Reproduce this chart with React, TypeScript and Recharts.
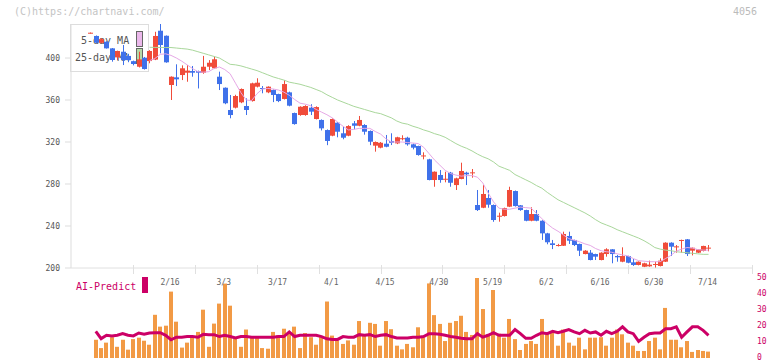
import React from 'react';
import { ComposedChart, Bar, Line, XAxis, YAxis } from 'recharts';

const MONO = '"DejaVu Sans Mono", monospace';
const RED = '#f04c3a';
const BLUE = '#3f71ea';

const open = [
  424.1, 421, 414.5, 415.5, 409.2, 400.6, 406, 402, 397, 391.7,
  400.3, 397.1, 398.5, 426, 421.2, 374.3, 381.6, 383.8, 386, 387.6,
  387.6, 386, 391.7, 390.2, 382.2, 371.7, 350.5, 352.7, 357.8, 354.3,
  359, 372.7, 371.4, 367.3, 369.5, 365.7, 361, 367.3, 347.6, 345.7,
  345.7, 352.7, 341.9, 341, 331.4, 326, 338.4, 328.3, 326, 337.8,
  335.5, 336.2, 330.5, 316.5, 314.6, 318.4, 321, 318.7, 323.4, 324.1,
  317.8, 316.2, 306.8, 303.5, 283.8, 288.6, 284.5, 290.8, 279, 284.8,
  290.8, 290.8, 260, 257.4, 266.7, 260, 249.5, 249.5, 258.4, 273.3,
  259.7, 255.2, 245, 251.4, 245, 233, 223.5, 221.6, 221.2, 230.5,
  226.7, 222.9, 213.3, 214.6, 213.3, 207.6, 213.3, 217.8, 211.4, 206,
  211.4, 205.4, 202.9, 201.2, 201.6, 203.5, 201.9, 206, 224.1, 220.3,
  226, 227.3, 216.5, 214.6, 216.2, 219,
];
const high = [
  424.3, 421.5, 419, 416, 409.5, 407, 412.4, 404, 397.5, 406,
  401, 407.5, 425, 432.4, 421.5, 382.5, 394, 393, 393.3, 392.4,
  388, 402, 398, 401, 387, 372, 364.8, 365, 371, 361.6,
  376.5, 380.7, 373.3, 373, 370, 366, 379, 368, 348, 354,
  355, 356, 354, 341.5, 332, 342.5, 339, 334.6, 336, 340,
  344.8, 337, 331, 320.5, 320, 326.7, 328.3, 325, 326.4, 325,
  318.5, 316.5, 310.2, 304, 292, 293.3, 291.7, 291.5, 286, 300.3,
  291.7, 294.3, 274.3, 279, 274.3, 260.5, 252.7, 257.5, 277.4, 273.8,
  260, 255.5, 257.8, 255.2, 245.5, 233.5, 226.7, 223, 234.6, 234.6,
  227, 223.2, 217, 217.1, 213.6, 215, 218.8, 218, 212.5, 219.7,
  211.7, 208.6, 206.3, 205, 207, 206, 209.2, 224.5, 224.5, 221.9,
  227, 227.6, 219.5, 218, 221.2, 221.9,
];
const low = [
  424.0, 414, 414, 409, 396.5, 398, 393.3, 396, 393, 391,
  389, 395, 398, 404.5, 395.5, 360, 373.3, 379, 377.4, 382.2,
  371, 385, 388.6, 389.5, 369.5, 356, 342.6, 352, 357, 345.7,
  358.5, 372, 366.4, 366.5, 358, 358, 360.5, 354, 336.5, 345,
  345, 345.7, 341.5, 331, 317, 325.5, 324.5, 322.6, 325.5, 332,
  335, 327, 317, 310.8, 314, 315, 317.1, 318, 321.6, 316.5,
  313, 307, 303.5, 283.5, 277.4, 281.2, 281.6, 277.4, 274.3, 284.5,
  279, 286, 254.3, 257, 257.4, 244, 244.1, 249, 258, 258.5,
  254.5, 244.5, 244.5, 244.5, 226.7, 222.6, 218, 220.5, 221, 222.9,
  220.9, 211.4, 213, 207.3, 207.6, 207.3, 210.8, 204.5, 206, 205.5,
  204.5, 202, 202.5, 200.8, 201.2, 199, 201.5, 205.7, 211.4, 214.6,
  214.6, 211.4, 212, 214.3, 215.8, 215.9,
];
const close = [
  424.1, 414.6, 418, 409.2, 398.1, 406.7, 398, 398, 394.3, 398.7,
  389.5, 406.7, 421, 412.4, 395.9, 382.2, 379.7, 390.2, 388, 386,
  386, 391.7, 395.5, 398.8, 375.2, 356.9, 345.7, 363.8, 370.5, 350.5,
  375.9, 376.5, 370.5, 372.7, 364.8, 359, 375.2, 354.6, 337.1, 353.6,
  354.3, 348.9, 353.3, 333, 321, 341.9, 329.8, 324.1, 335.2, 335.5,
  341, 329.8, 320.3, 320, 319.3, 315.5, 319.3, 324.5, 323.6, 317.8,
  314.6, 307.6, 307.2, 283.8, 291.7, 283.8, 285, 281.2, 285.4, 292.4,
  289.2, 291.1, 255.2, 270.5, 260.3, 245.7, 249.8, 257.1, 274.3, 259,
  255.2, 245, 251.4, 245, 233, 224.5, 221.9, 221.9, 232.4, 226,
  221.9, 216.5, 216.5, 207.6, 210.8, 214.6, 217.8, 213.3, 210.2, 211.4,
  205, 202.9, 206, 204.5, 203.2, 203.8, 207, 224.1, 220.3, 220.6,
  226.7, 213.3, 219.3, 217.8, 221, 219.4,
];

const N = null;
const ma5 = [
  N, N, N, N, N, N, N, N, N, N, N,
  397.5, 399.5, 403.5, 404, 402.5, 400, 397, 393.5, 390, 387,
  386.5, 387, 390, 391.5, 389, 385, 376, 367, 360, 359.5,
  366, 370.5, 371, 370.5, 369.5, 367.5, 364.5, 360.5, 357, 356,
  354.5, 351, 348.5, 346, 343, 339, 335, 331.5, 332, 333,
  333, 333, 330, 327.5, 323, 320, 320, 320, 319.5, 319,
  318.5, 315, 309, 303, 298, 293, 290, 288.5, 287.5, 288,
  288, 286.5, 281, 271.5, 263, 257, 256, 256, 257, 258,
  257.5, 257, 252, 247, 242, 238, 235, 231.5, 228, 226.5,
  225, 223, 221.5, 218.5, 216.5, 215.5, 215, 213.5, 212.5, 211.5,
  209, 207, 206.5, 206, 206, 206, 209, 212, 216, 218,
  219.5, 219, 217.5, 217, 217,
];
const ma25 = [
  N, N, N, N, N, N, N, N, N, N, N,
  410.2, 410.1, 410, 410, 410, 409.5, 409, 408.5, 407.5, 406,
  404.5, 403, 401.5, 400, 397, 394, 393.5, 392.5, 391, 389.5,
  388, 386, 384, 382, 380.5, 379, 377, 376, 375, 373.5,
  372, 370, 368, 365, 362.5, 360, 358, 356, 354, 352.5,
  351, 349.5, 348, 347, 345, 343, 340, 338, 337, 335,
  333.5, 331.5, 330, 328, 326.5, 324.5, 321.5, 318.5, 316, 314,
  311.5, 308.5, 306, 304, 301, 297, 295, 293, 289, 286.5,
  284, 281.5, 278.5, 276, 272, 268.5, 265, 262.5, 260, 257.5,
  255, 252.5, 249.5, 246, 243, 241, 239, 236.5, 234.5, 232.5,
  230.5, 228.5, 226, 223, 219.5, 218, 217, 216.5, 215.5, 215,
  214.5, 214, 213.5, 213, 213,
];

const volume = [
  N,
  11.4, 6.2, 9.6, 13, 7, 11.4, 5.2, 11.8, 12.7, 10.8,
  8.3, 27, 19.6, 20.2, 41.5, 22.7, 6.5, 9.6, 13.5, 16.3,
  30.2, 7, 21.5, 34, 46.5, 32.7, 12, 7, 17.8, 12.7,
  13, 6.2, 5.8, 16.3, 14.2, 18.3, 15.2, 19.6, 6.2, 15.6,
  13, 8.3, 13, 35.3, 14, 11, 8.8, 11, 8.3, 23.1,
  14.8, 22, 21.3, 7.7, 23.1, 18, 7.7,
  5.4, 8.8, 6.7, 19.2, 12.7, 46.6, 26.8, 21.3, 10.6, 22,
  23.1, 26.4, 16.3, 14.4, 50, 30.6, 14.8, 42.5, 15.2, 12.7,
  24.4, 11.8, 5, 8.8, 10.6, 8.8, 24.4, 14.8, 15.6, 7.7,
  17.8, 9.6, 7.7, 12.7, 5.4, 12.7, 12.7, 13, 7.7, 12.7,
  17.8, 14.8, 9.6, 7.7, 4.4, 4.4, 10.6, 12.7, 5.4, 31.3,
  11.4, 11.4, 6.7, 10.6, 3.8, 5, 4.4, 4,
];
const aiPredict = [
  N,
  16.7, 12.1, 14.2, 13.8, 14.2, 15.2, 14.2, 13.8, 15.6, 14.8,
  15.6, 15.8, 15.8, 14.2, 11.4, 13, 13, 13.4, 13.4, 13,
  14.8, 14.6, 14.6, 13.4, 14.2, 13.4, 12.5, 13.4, 13.4, 13,
  13, 13, 13, 13, 13.4, 13.4, 16.3, 13.4, 14.2, 14.2,
  14.2, 14.2, 13.4, 12, 11.6, 11.6, 13.4, 13, 13, 14.6,
  14.2, 14.6, 13.4, 14.2, 14.6, 13.4, 12.5,
  12.5, 12.5, 13, 13, 13.4, 15.2, 15.2, 14.8, 14.2, 13.4,
  13, 12.3, 12, 12, 15.2, 13, 14.2, 15.8, 14.2, 14.2,
  14.2, 17.8, 15.2, 12.3, 12.3, 14.2, 15.8, 15.2, 16.7, 15.8,
  16.7, 17.8, 16.3, 15.2, 17.3, 15.6, 16.3, 14.2, 16.7, 15.2,
  16.7, 19.5, 16.3, 15.2, 10.4, 13, 15.2, 15.6, 15.6, 18.3,
  18.3, 19.5, 13, 16.3, 19.5, 19.5, 17.3, 14.2,
];

const tickIndex = [15, 25, 35, 45, 55, 65, 75, 85, 95, 105, 115];
const tickLabels = ['2/16', '3/3', '3/17', '4/1', '4/15', '4/30', '5/19', '6/2', '6/16', '6/30', '7/14'];
const priceTicks = [200, 240, 280, 320, 360, 400];
const subTicks = [0, 10, 20, 30, 40, 50];

const X_DOMAIN: [number, number] = [-3.61, 123.09];
const gridTicks = Array.from({ length: 11 }, (_, j) =>
  Math.min(X_DOMAIN[1], X_DOMAIN[0] + ((X_DOMAIN[1] - X_DOMAIN[0]) * (j + 1)) / 11)
);

const rows = open.map((o, i) => ({
  i,
  o,
  h: high[i],
  l: low[i],
  c: close[i],
  range: [low[i], high[i]],
  ma5: ma5[i],
  ma25: ma25[i],
}));
const subRows = volume.map((v, i) => ({ i, vol: v, ai: aiPredict[i] }));

const Candle = (props: any) => {
  const { x, y, width, height, payload } = props;
  if (x == null || y == null || !payload) return null;
  const { o, h, l, c } = payload;
  const top0 = Math.min(y, y + height);
  const hgt = Math.abs(height);
  const span = h - l;
  const ppu = span > 0 ? hgt / span : 0;
  const color = c >= o ? RED : BLUE;
  const cx = Math.round(x + width / 2);
  const bTop = top0 + (h - Math.max(o, c)) * ppu;
  const bBot = top0 + (h - Math.min(o, c)) * ppu;
  const bH = Math.max(1, bBot - bTop);
  return (
    <g>
      <line x1={cx + 0.5} x2={cx + 0.5} y1={top0} y2={top0 + Math.max(hgt, 1)} stroke={color} strokeWidth={1} />
      <rect x={cx - 2} y={bTop} width={5} height={bH} fill={color} />
    </g>
  );
};

const VolBar = (props: any) => {
  const { x, y, width, height } = props;
  if (x == null || y == null || !height) return null;
  const cx = Math.round(x + width / 2);
  return <rect x={cx - 2} y={y} width={4} height={height} fill="#f29a45" />;
};

const DateTick = (props: any) => {
  const { x, y, payload } = props;
  const idx = tickIndex.indexOf(payload.value);
  if (idx >= 0) {
    return (
      <text x={x - 1} y={y + 17} textAnchor="middle" fill="#666" fontSize={8} fontFamily={MONO}>
        {tickLabels[idx]}
      </text>
    );
  }
  const px = Math.round(x) + 0.5;
  return <line x1={px} x2={px} y1={y - 3} y2={y + 6} stroke="#e0e0e0" strokeWidth={1} />;
};

const SubTick = (props: any) => {
  const { x, y, payload } = props;
  return (
    <text x={x} y={y - 1} dy="0.355em" textAnchor="start" fill="#cc0066" fontSize={8} fontFamily={MONO}>
      {payload.value}
    </text>
  );
};

export default function App() {
  return (
    <div style={{ position: 'absolute', left: 0, top: 0, width: 772, height: 361, background: '#fff', overflow: 'hidden' }}>
      <svg width={772} height={361} style={{ position: 'absolute', left: 0, top: 0 }}>
        <text x={14} y={15} fill="#c4c4c4" fontSize={10} fontFamily={MONO}>(C)https://chartnavi.com/</text>
        <text x={757} y={15} textAnchor="end" fill="#bbbbbb" fontSize={10} fontFamily={MONO}>4056</text>
        <rect x={70.5} y={24.5} width={78} height={47} fill="#fff" stroke="#dddddd" />
        <text x={81} y={44} fill="#555" fontSize={10} fontFamily={MONO}>5-day MA</text>
        <text x={75} y={61} fill="#555" fontSize={10} fontFamily={MONO}>25-day MA</text>
        <rect x={136.5} y={31.5} width={6} height={15} fill="#ebb8eb" stroke="#666" />
        <rect x={136.5} y={48.5} width={6} height={15} fill="#b5d9a6" stroke="#666" />
        <text x={76} y={290} fill="#cc0066" fontSize={10} fontFamily={MONO}>AI-Predict</text>
        <rect x={142} y={277} width={6} height={16} fill="#cc0066" />
      </svg>
      <div style={{ position: 'absolute', left: 0, top: 270 }}>
        <ComposedChart width={772} height={91} data={subRows} margin={{ top: 8, right: 0, bottom: 3, left: 71 }}>
          <XAxis dataKey="i" type="number" domain={X_DOMAIN} allowDataOverflow hide />
          <YAxis
            orientation="right"
            type="number"
            domain={[0, 50]}
            ticks={subTicks}
            interval={0}
            width={20}
            axisLine={false}
            tickLine={false}
            tickSize={0}
            tickMargin={5}
            tick={<SubTick />}
          />
          <Bar dataKey="vol" shape={VolBar} isAnimationActive={false} />
          <Line dataKey="ai" stroke="#cc0066" strokeWidth={3} dot={false} activeDot={false} isAnimationActive={false} />
        </ComposedChart>
      </div>
      <div style={{ position: 'absolute', left: 0, top: 0 }}>
        <ComposedChart width={772} height={300} data={rows} margin={{ top: 24, right: 20, bottom: 2, left: 0 }}>
          <XAxis
            dataKey="i"
            type="number"
            domain={X_DOMAIN}
            allowDataOverflow
            ticks={[...tickIndex, ...gridTicks]}
            interval={0}
            height={30}
            tickLine={false}
            tickSize={0}
            tickMargin={0}
            axisLine={{ stroke: '#e0e0e0' }}
            tick={<DateTick />}
          />
          <YAxis
            type="number"
            domain={[200, 432.4]}
            allowDataOverflow
            ticks={priceTicks}
            interval={0}
            width={71}
            tickSize={6}
            tickMargin={5}
            axisLine={{ stroke: '#dddddd' }}
            tickLine={{ stroke: '#dddddd' }}
            tick={{ fill: '#555', fontSize: 8, fontFamily: MONO }}
          />
          <Line dataKey="ma25" stroke="#a9d79b" strokeWidth={1} dot={false} activeDot={false} isAnimationActive={false} />
          <Line dataKey="ma5" stroke="#e6a8e6" strokeWidth={1} dot={false} activeDot={false} isAnimationActive={false} />
          <Bar dataKey="range" shape={Candle} isAnimationActive={false} />
        </ComposedChart>
      </div>
    </div>
  );
}
